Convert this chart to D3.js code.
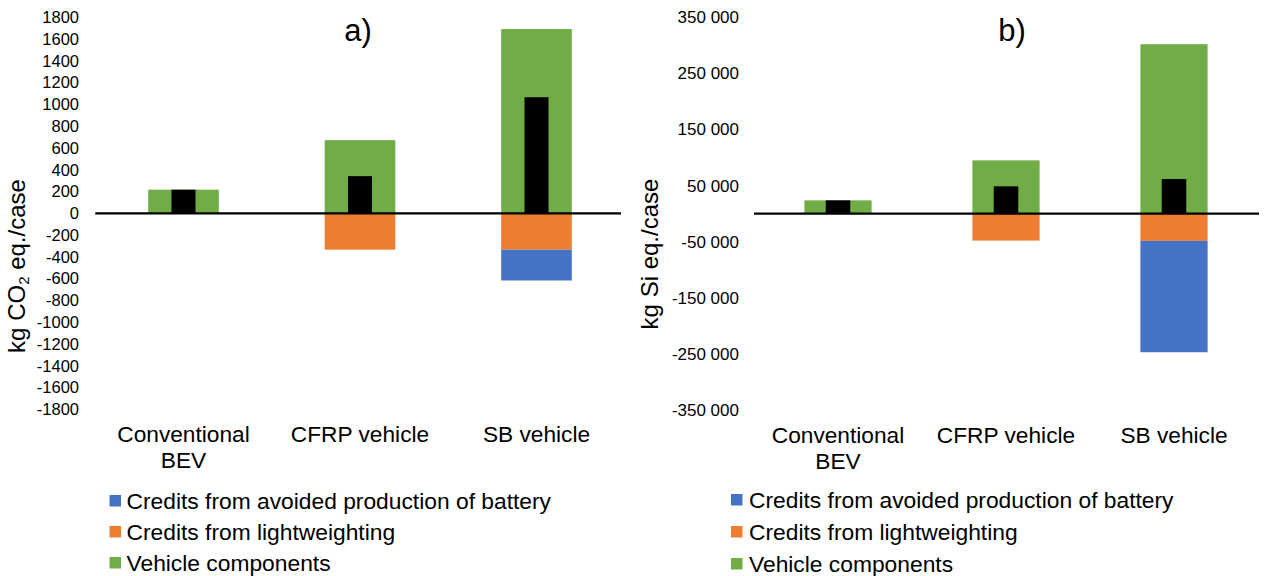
<!DOCTYPE html>
<html>
<head>
  <meta charset="utf-8">
  <title>Vehicle components and credits</title>
  <script src="https://cdnjs.cloudflare.com/ajax/libs/d3/7.8.5/d3.min.js"></script>
  <style>
    body {
      margin: 0;
      background: #fff;
      font-family: "Liberation Sans", Arial, sans-serif;
    }
    text {
      fill: #000;
    }
    .tick-label {
      font-size: 16.5px;
      text-anchor: end;
    }
    .cat-label {
      font-size: 22.7px;
      text-anchor: middle;
    }
    .legend-label {
      font-size: 22.8px;
    }
    .axis-title {
      font-size: 24px;
      text-anchor: middle;
    }
    .panel-title {
      font-size: 31px;
      text-anchor: middle;
    }
  </style>
</head>
<body>
  <svg id="chart" width="1267" height="576"></svg>

  <script>
    // Categories and series
    const categories = ["Conventional BEV", "CFRP vehicle", "SB vehicle"];
    const categoryLines = [["Conventional", "BEV"], ["CFRP vehicle"], ["SB vehicle"]];
    const seriesNames = [
      "Credits from avoided production of battery",
      "Credits from lightweighting",
      "Vehicle components"
    ];
    const seriesColors = ["#4472C4", "#ED7D31", "#70AD47"];

    // a) kg CO2 eq./case
    const co2Vehicle = [217, 672, 1692];
    const co2Lightweighting = [0, -334, -334];
    const co2Battery = [0, 0, -283];
    const co2Net = [217, 341, 1066];
    const co2Ticks = [1800, 1600, 1400, 1200, 1000, 800, 600, 400, 200, 0,
      -200, -400, -600, -800, -1000, -1200, -1400, -1600, -1800];

    // b) kg Si eq./case
    const siVehicle = [23700, 95000, 302000];
    const siLightweighting = [0, -48000, -48500];
    const siBattery = [0, 0, -198500];
    const siNet = [23700, 48700, 61700];
    const siTicks = [350000, 250000, 150000, 50000, -50000, -150000, -250000, -350000];

    const svg = d3.select("#chart");

    // space as thousands separator, e.g. "-250 000"
    const spaceFormat = d3.formatLocale({ decimal: ".", thousands: " ", grouping: [3], currency: ["", ""], minus: "-" }).format(",d");

    function drawPanel(p) {
      const g = svg.append("g");

      const x = d3.scaleBand().domain(categories).range([p.x0, p.x1]).padding(0);
      const y = d3.scaleLinear().domain([p.ticks[p.ticks.length - 1], p.ticks[0]]).range([p.yBottom, p.yTop]);

      const rows = categories.map((c, i) => ({
        cat: c,
        vehicle: p.vehicle[i],
        lightweighting: p.lightweighting[i],
        battery: p.battery[i]
      }));

      // vehicle goes up, lightweighting sits right under zero, battery below it
      const stack = d3.stack()
        .keys(["vehicle", "lightweighting", "battery"])
        .offset(d3.stackOffsetDiverging);
      const layers = stack(rows);
      const colorOf = { battery: seriesColors[0], lightweighting: seriesColors[1], vehicle: seriesColors[2] };

      const barW = x.bandwidth() * p.barFrac;
      const netW = x.bandwidth() * p.netFrac;

      g.selectAll("g.layer")
        .data(layers)
        .join("g")
        .attr("class", "layer")
        .attr("fill", d => colorOf[d.key])
        .selectAll("rect")
        .data(d => d)
        .join("rect")
        .attr("x", d => x(d.data.cat) + (x.bandwidth() - barW) / 2)
        .attr("width", barW)
        .attr("y", d => y(Math.max(d[0], d[1])))
        .attr("height", d => Math.abs(y(d[0]) - y(d[1])));

      // net result bar (black, narrower)
      g.append("g")
        .selectAll("rect")
        .data(categories)
        .join("rect")
        .attr("fill", "#000")
        .attr("x", d => x(d) + (x.bandwidth() - netW) / 2)
        .attr("width", netW)
        .attr("y", (d, i) => y(Math.max(0, p.net[i])))
        .attr("height", (d, i) => Math.abs(y(p.net[i]) - y(0)));

      // zero line
      g.append("line")
        .attr("x1", p.x0)
        .attr("x2", p.lineEnd)
        .attr("y1", y(0))
        .attr("y2", y(0))
        .attr("stroke", "#000")
        .attr("stroke-width", 2.2);

      // tick labels
      g.selectAll("text.tick-label")
        .data(p.ticks)
        .join("text")
        .attr("class", "tick-label")
        .attr("x", p.tickX)
        .attr("y", d => y(d))
        .attr("dy", "0.35em")
        .style("font-size", p.tickSize)
        .text(p.tickFormat);

      // category labels
      const cat = g.selectAll("text.cat-label")
        .data(categories)
        .join("text")
        .attr("class", "cat-label")
        .attr("y", p.catY);
      cat.selectAll("tspan")
        .data((d, i) => categoryLines[i].map(t => ({ t, c: d })))
        .join("tspan")
        .attr("x", d => x(d.c) + x.bandwidth() / 2)
        .attr("dy", (d, j) => j === 0 ? 0 : 26)
        .text(d => d.t);

      // axis title
      const title = g.append("text")
        .attr("class", "axis-title")
        .attr("transform", `translate(${p.titleX},${p.titleY}) rotate(-90)`);
      p.yTitle(title);

      // panel letter
      g.append("text")
        .attr("class", "panel-title")
        .attr("x", p.letterX)
        .attr("y", 41)
        .text(p.letter);

      // legend
      const leg = g.selectAll("g.legend")
        .data(seriesNames)
        .join("g")
        .attr("class", "legend")
        .attr("transform", (d, i) => `translate(${p.legendX},${p.legendY[i]})`);
      leg.append("rect")
        .attr("x", 0)
        .attr("y", -6)
        .attr("width", 11.5)
        .attr("height", 11.5)
        .attr("fill", (d, i) => seriesColors[i]);
      leg.append("text")
        .attr("class", "legend-label")
        .attr("x", p.legendTextDx)
        .attr("y", 0)
        .attr("dy", "0.35em")
        .text(d => d);
    }

    drawPanel({
      x0: 95.25, x1: 624.75, lineEnd: 621,
      yTop: 17.3, yBottom: 409.3,
      vehicle: co2Vehicle, lightweighting: co2Lightweighting, battery: co2Battery, net: co2Net,
      ticks: co2Ticks, tickX: 79, tickSize: "16.5px", tickFormat: d => d,
      barFrac: 0.4, netFrac: 0.136,
      catY: 442,
      titleX: 25, titleY: 266,
      yTitle: t => {
        t.append("tspan").text("kg CO");
        t.append("tspan").attr("dy", 4).style("font-size", "15px").text("2");
        t.append("tspan").attr("dy", -4).text(" eq./case");
      },
      letter: "a)", letterX: 358,
      legendX: 109.5, legendY: [501, 532, 563], legendTextDx: 17
    });

    drawPanel({
      x0: 754, x1: 1258, lineEnd: 1259,
      yTop: 17.3, yBottom: 410,
      vehicle: siVehicle, lightweighting: siLightweighting, battery: siBattery, net: siNet,
      ticks: siTicks, tickX: 739, tickSize: "17px", tickFormat: spaceFormat,
      barFrac: 0.4, netFrac: 0.146,
      catY: 443,
      titleX: 658, titleY: 254,
      yTitle: t => t.text("kg Si eq./case"),
      letter: "b)", letterX: 1012,
      legendX: 731, legendY: [500, 532, 564], legendTextDx: 18
    });
  </script>
</body>
</html>
